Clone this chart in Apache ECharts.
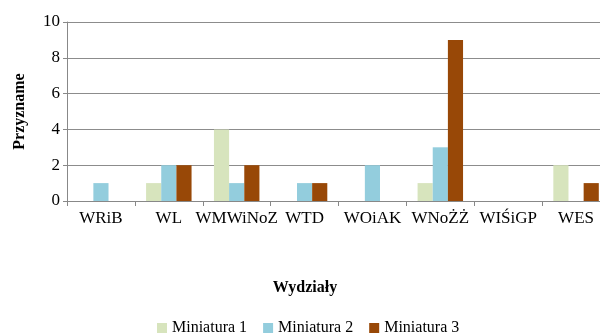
<!DOCTYPE html>
<html><head><meta charset="utf-8">
<script src="https://cdn.jsdelivr.net/npm/echarts@6/dist/echarts.min.js"></script>
<style>html,body{margin:0;padding:0;background:#fff}#c{width:600px;height:336px}</style>
</head><body><div id="c"></div>
<script>
const categories = ['WRiB','WL','WMWiNoZ','WTD','WOiAK','WNoŻŻ','WIŚiGP','WES'];
const mini1 = [0,1,4,0,0,1,0,2];
const mini2 = [1,2,1,1,2,3,0,0];
const mini3 = [0,2,2,1,0,9,0,1];
const yTicks = [0,2,4,6,8,10];
const font = '"Liberation Serif", "Times New Roman", serif';
const chart = echarts.init(document.getElementById('c'));
chart.setOption({
  animation:false,
  textStyle:{fontFamily:font},
  title:{text:'Wydziały',left:300,textAlign:'center',top:275,textStyle:{fontFamily:font,fontSize:16,fontWeight:'bold',color:'#000'}},
  legend:{top:315,left:152,itemWidth:10,itemHeight:10,itemGap:16,icon:'rect',
    textStyle:{fontFamily:font,fontSize:16,color:'#000'},
    data:['Miniatura 1','Miniatura 2','Miniatura 3']},
  grid:{left:67,top:22,right:-10,bottom:135,containLabel:false,outerBoundsMode:'none'},
  xAxis:{type:'category',data:categories,
    axisLine:{lineStyle:{color:'#888'}},
    axisTick:{show:true,length:5,lineStyle:{color:'#888'}},
    axisLabel:{fontFamily:font,fontSize:17,color:'#000',margin:9,interval:0}},
  yAxis:{type:'value',min:0,max:10,interval:2,
    name:'Przyzname',nameLocation:'middle',nameGap:39,
    nameTextStyle:{fontFamily:font,fontSize:16,fontWeight:'bold',color:'#000'},
    axisLine:{show:true,lineStyle:{color:'#888'}},
    axisTick:{show:true,length:4,lineStyle:{color:'#888'}},
    splitLine:{lineStyle:{color:'#8c8c8c'}},
    axisLabel:{fontFamily:font,fontSize:17,color:'#000',margin:7,
      formatter:v=>yTicks.includes(v)?String(v):''}},
  series:[
    {name:'Miniatura 1',type:'bar',data:mini1,itemStyle:{color:'#D7E4BD'},barGap:'0%',barCategoryGap:'33%'},
    {name:'Miniatura 2',type:'bar',data:mini2,itemStyle:{color:'#93CDDD'}},
    {name:'Miniatura 3',type:'bar',data:mini3,itemStyle:{color:'#984807'}}
  ]
});
</script></body></html>
